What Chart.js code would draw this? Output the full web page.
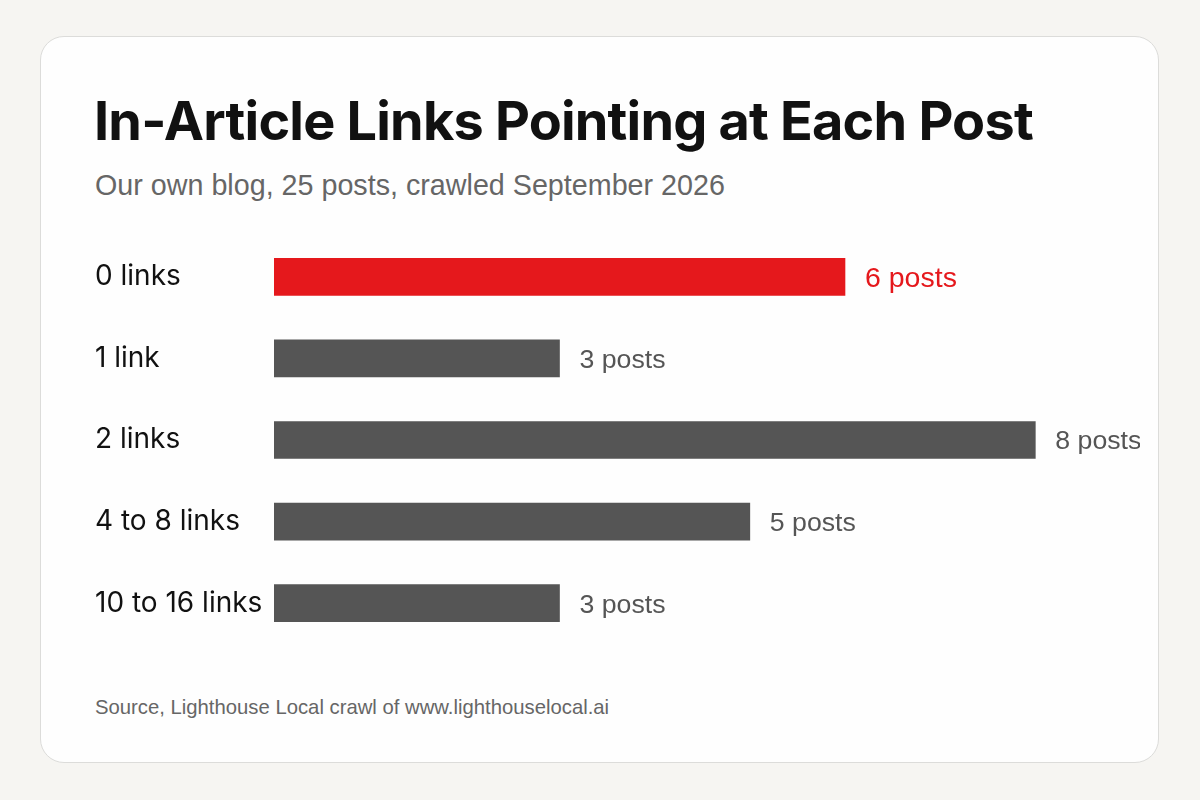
<!DOCTYPE html>
<html>
<head>
<meta charset="utf-8">
<script src="https://cdn.jsdelivr.net/npm/chart.js@4/dist/chart.umd.min.js"></script>
<style>
  html, body { margin:0; padding:0; background:#f6f5f2; }
  body { width:1200px; height:800px; position:relative; overflow:hidden; }
  .card {
    position:absolute; left:40px; top:36px; width:1119px; height:727px;
    background:#fefefe; border:1.5px solid #dcdcda; border-radius:24px; box-sizing:border-box;
  }
  .title {
    position:absolute; left:94px; top:89px; margin:0;
    font-family:Inter, "Noto Sans", sans-serif; font-weight:700; font-size:54px;
    letter-spacing:-0.8px; color:#111; white-space:nowrap; line-height:1.2;
  }
  .subtitle {
    position:absolute; left:95px; top:169px; line-height:1.15;
    font-family:"Liberation Sans", Arial, sans-serif; font-size:28.7px; color:#666; white-space:nowrap;
  }
  .source {
    position:absolute; left:95px; top:696px; line-height:1.15;
    font-family:"Liberation Sans", Arial, sans-serif; font-size:20.3px; color:#666; white-space:nowrap;
  }
  .chart-wrap { position:absolute; left:95px; top:236px; width:1045px; height:408px; }
</style>
</head>
<body>
<div class="card"></div>
<h1 class="title">In-Article Links Pointing at Each Post</h1>
<div class="subtitle">Our own blog, 25 posts, crawled September 2026</div>
<div class="chart-wrap"><canvas id="links-chart"></canvas></div>
<div class="source">Source, Lighthouse Local crawl of www.lighthouselocal.ai</div>

<script>
// link buckets and how many posts fall into each
const categories = ['0 links', '1 link', '2 links', '4 to 8 links', '10 to 16 links'];
const postCounts = [6, 3, 8, 5, 3];
const valueLabels = ['6 posts', '3 posts', '8 posts', '5 posts', '3 posts'];

const RED = '#e5181c', GREY = '#555555';
const barColors = postCounts.map((v, i) => i === 0 ? RED : GREY);
const labelColors = postCounts.map((v, i) => i === 0 ? RED : '#555');
const labelSizes = postCounts.map((v, i) => i === 0 ? 28.5 : 26.7);

// draws "N posts" just past the end of each bar
const endLabels = {
  id: 'endLabels',
  afterDatasetsDraw(chart) {
    const { ctx } = chart;
    const meta = chart.getDatasetMeta(0);
    ctx.save();
    ctx.textBaseline = 'middle';
    meta.data.forEach((bar, i) => {
      ctx.font = labelSizes[i] + 'px "Liberation Sans", Arial, sans-serif';
      ctx.fillStyle = labelColors[i];
      ctx.fillText(valueLabels[i], bar.x + 20, bar.y + 2);
    });
    ctx.restore();
  }
};

new Chart(document.getElementById('links-chart'), {
  type: 'bar',
  data: {
    labels: categories,
    datasets: [{
      data: postCounts,
      backgroundColor: barColors,
      borderWidth: 0,
      barThickness: 37,
    }]
  },
  options: {
    indexAxis: 'y',
    responsive: true,
    maintainAspectRatio: false,
    animation: false,
    layout: { padding: 0 },
    plugins: { legend: { display:false }, tooltip: { enabled:false }, title: { display:false } },
    scales: {
      x: { display:false, min:0, max:9.1 },
      y: {
        grid: { display:false }, border: { display:false },
        ticks: {
          crossAlign: 'far', padding: 0,
          color: '#111',
          font: { family: 'Inter, "Noto Sans", sans-serif', size: 28 },
        },
        afterFit(scale) {
          scale.width = 179;
          scale.paddingTop = 0;
          scale.paddingBottom = 0;
        },
      }
    }
  },
  plugins: [endLabels]
});
</script>
</body>
</html>
